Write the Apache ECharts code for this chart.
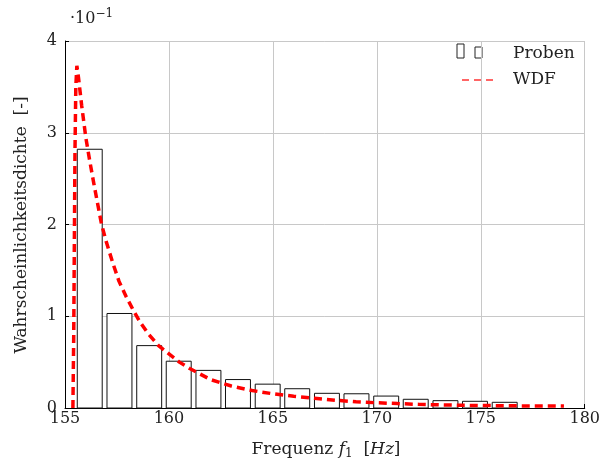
<!DOCTYPE html>
<html><head><meta charset="utf-8">
<script src="https://cdn.jsdelivr.net/npm/echarts@6/dist/echarts.min.js"></script>
<style>html,body{margin:0;padding:0;background:#fff}#c{width:603px;height:463px}</style>
</head><body><div id="c"></div>
<script>
// Histogram bins (Frequenz f1 in Hz) and sample density (x 10^-1)
const binLeft  = [155.59,157.02,158.45,159.87,161.30,162.72,164.15,165.57,167.00,168.42,169.85,171.27,172.70,174.12,175.55];
const binRight = [156.79,158.22,159.65,161.07,162.50,163.92,165.35,166.77,168.20,169.62,171.05,172.47,173.90,175.32,176.75];
const probenValues = [2.82,1.03,0.68,0.51,0.41,0.31,0.26,0.21,0.16,0.155,0.13,0.095,0.08,0.073,0.062];
// WDF curve
const wdfX = [155.38,155.42,155.45,155.48,155.52,155.57,155.65,155.8,156.0,156.2,156.4,156.75,157.0,157.3,157.6,157.95,158.3,158.6,159.0,159.5,160.0,160.5,161.0,161.5,162.0,163.0,164.0,165.0,166.0,167.0,168.0,169.0,170.0,171.0,172.0,173.0,174.0,175.0,176.0,177.0,178.0,179.0];
const wdfY = [0,0.8,1.8,2.8,3.5,3.73,3.6,3.3,2.95,2.68,2.43,2.01,1.8,1.58,1.38,1.21,1.06,0.94,0.81,0.68,0.59,0.50,0.43,0.37,0.31,0.24,0.19,0.155,0.128,0.105,0.085,0.068,0.057,0.048,0.040,0.034,0.030,0.027,0.025,0.023,0.022,0.021];
const xTicks = [155,160,165,170,175,180];
const yTicks = [0,1,2,3,4];

const FONT = 'DejaVu Serif';
const TXT = '#222';
const FS = 17;
const chart = echarts.init(document.getElementById('c'), null, {renderer:'canvas'});
const barData = binLeft.map((l,i)=>[l, binRight[i], probenValues[i]]);
const lineData = wdfX.map((x,i)=>[x, wdfY[i]]);

chart.setOption({
  animation:false,
  backgroundColor:'#fff',
  grid:{left:65, right:15, top:41, bottom:55, containLabel:false},
  xAxis:{type:'value', min:xTicks[0], max:xTicks[xTicks.length-1], interval:5,
    axisLine:{show:true, onZero:false, lineStyle:{color:'#000', width:1}},
    axisTick:{show:true, inside:true, length:4, lineStyle:{color:'#000'}},
    axisLabel:{color:TXT, fontFamily:FONT, fontSize:16, margin:3},
    splitLine:{show:true, lineStyle:{color:'#c8c8c8', width:1}}
  },
  yAxis:{type:'value', min:yTicks[0], max:yTicks[yTicks.length-1], interval:1,
    axisLine:{show:true, lineStyle:{color:'#000', width:1}},
    axisTick:{show:true, inside:true, length:4, lineStyle:{color:'#000'}},
    axisLabel:{color:TXT, fontFamily:FONT, fontSize:16, margin:8},
    splitLine:{show:true, lineStyle:{color:'#c8c8c8', width:1}}
  },
  series:[
    {type:'custom', name:'Proben', z:2, data:barData,
      renderItem:function(params, api){
        const p0 = api.coord([api.value(0), 0]);
        const p1 = api.coord([api.value(1), api.value(2)]);
        return {type:'rect', shape:{x:p0[0], y:p1[1], width:p1[0]-p0[0], height:p0[1]-p1[1]},
          style:{fill:'#fff', stroke:'#111', lineWidth:1}};
      }
    },
    {type:'line', name:'WDF', z:5, data:lineData, showSymbol:false, smooth:false,
      lineStyle:{color:'#ff0000', width:3.5, type:[8,5]}}
  ],
  graphic:[
    {type:'text', left:70, top:8, style:{rich:{a:{fontFamily:FONT,fontSize:16,fill:TXT},s:{fontFamily:FONT,fontSize:12,fill:TXT,verticalAlign:'top',padding:[0,0,9,0]}}, text:'{a|·10}{s|−1}'}},
    {type:'text', x:22, y:225, rotation:Math.PI/2, style:{text:'Wahrscheinlichkeitsdichte  [-]', fontFamily:FONT, fontSize:FS, fill:TXT, align:'center', verticalAlign:'middle'}},
    {type:'text', x:326, y:450, style:{align:'center', verticalAlign:'middle', rich:{a:{fontFamily:FONT,fontSize:FS,fill:TXT},i:{fontFamily:FONT,fontSize:FS,fontStyle:'italic',fill:TXT},s:{fontFamily:FONT,fontSize:12,fill:TXT,verticalAlign:'bottom',padding:[7,0,0,0]}}, text:'{a|Frequenz }{i|f}{s|1}{a|  [}{i|Hz}{a|]}'}},
    {type:'rect', shape:{x:457, y:44, width:7, height:14}, style:{fill:'#fff', stroke:'#222', lineWidth:1}},
    {type:'rect', shape:{x:475, y:47, width:7, height:11}, style:{fill:'#fff', stroke:'#222', lineWidth:1}},
    {type:'text', x:513, y:54, style:{text:'Proben', fontFamily:FONT, fontSize:FS, fill:TXT, verticalAlign:'middle'}},
    {type:'line', shape:{x1:462, y1:80, x2:498, y2:80}, style:{stroke:'#ff3333', lineWidth:1.5, lineDash:[7,5]}},
    {type:'text', x:513, y:80, style:{text:'WDF', fontFamily:FONT, fontSize:FS, fill:TXT, verticalAlign:'middle'}}
  ]
});
</script></body></html>
